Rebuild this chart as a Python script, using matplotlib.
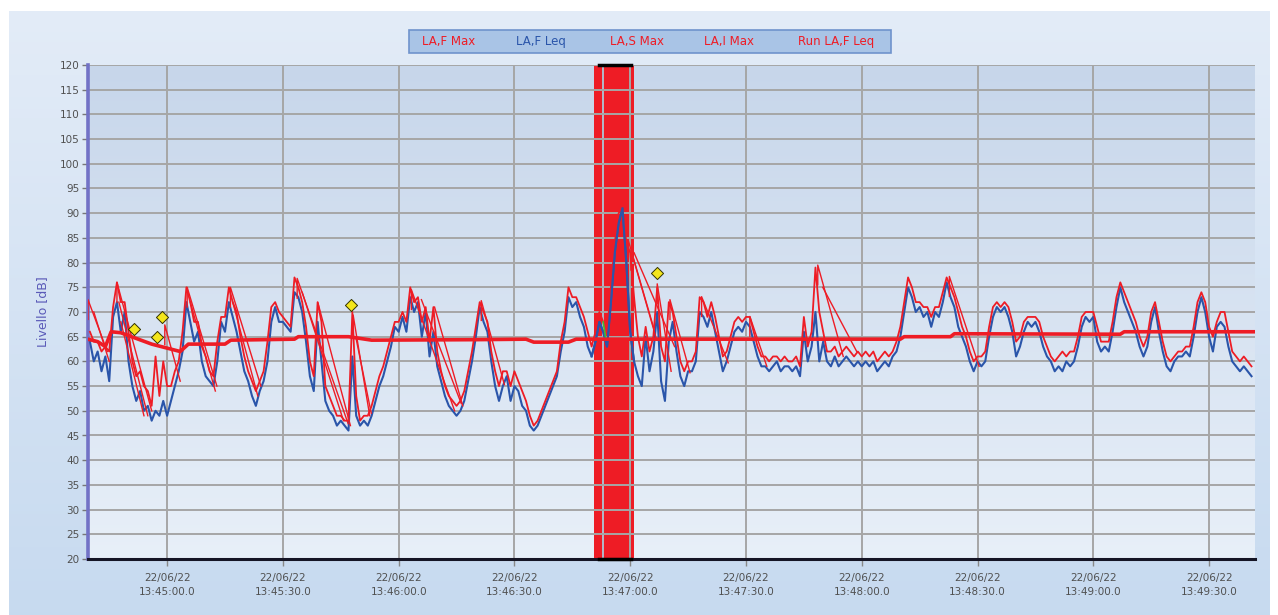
import numpy as np
import matplotlib
matplotlib.use("Agg")
import matplotlib.pyplot as plt
from matplotlib.patches import Rectangle

# ---------------- data (seconds relative to 13:45:00) ----------------
t_start = -20
leq = [64, 60, 62, 58, 61, 56, 69, 72, 66, 70, 60, 55, 52, 54, 50, 51, 48, 50, 49, 52, 49,
       52, 55, 58, 62, 72, 68, 64, 66, 60, 57, 56, 55, 60, 68, 66, 72, 69, 66, 62, 58,
       56, 53, 51, 54, 56, 60, 68, 71, 68, 68, 67, 66, 74, 73, 70, 64, 57, 54, 68, 60,
       52, 50, 49, 47, 48, 47, 46, 61, 49, 47, 48, 47, 49, 52, 55, 57, 60, 63, 67, 66,
       69, 66, 73, 70, 72, 65, 70, 61, 66, 59, 56, 53, 51, 50, 49, 50, 52, 56, 60, 65,
       71, 68, 66, 60, 55, 52, 55, 57, 52, 55, 54, 51, 50, 47, 46, 47, 49, 51, 53, 55,
       57, 62, 66, 73, 71, 72, 69, 67, 63, 61, 64, 68, 66, 63, 72, 82, 88, 91, 80, 66,
       60, 57, 55, 65, 58, 62, 70, 56, 52, 64, 68, 62, 57, 55, 58, 58, 60, 70, 69, 67,
       70, 66, 62, 58, 60, 63, 66, 67, 66, 68, 67, 64, 61, 59, 59, 58, 59, 60, 58, 59,
       59, 58, 59, 57, 66, 60, 63, 70, 60, 64, 60, 59, 61, 59, 60, 61, 60, 59, 60, 59,
       60, 59, 60, 58, 59, 60, 59, 61, 62, 65, 70, 75, 73, 70, 71, 69, 70, 67, 70, 69,
       72, 76, 73, 71, 67, 65, 63, 60, 58, 60, 59, 60, 65, 69, 71, 70, 71, 69, 66, 61,
       63, 66, 68, 67, 68, 66, 63, 61, 60, 58, 59, 58, 60, 59, 60, 63, 67, 69, 68, 69,
       64, 62, 63, 62, 66, 71, 75, 72, 70, 68, 66, 63, 61, 63, 68, 71, 66, 62, 59, 58,
       60, 61, 61, 62, 61, 65, 70, 73, 70, 65, 62, 67, 68, 67, 63, 60, 59, 58, 59, 58,
       57]
fmax = [66, 64, 64, 62, 63, 62, 71, 76, 72, 72, 66, 60, 57, 58, 55, 54, 51, 61, 53, 60, 55,
        55, 58, 60, 66, 75, 72, 68, 68, 63, 61, 58, 57, 64, 69, 69, 75, 72, 70, 65, 61,
        58, 56, 54, 56, 58, 64, 71, 72, 70, 69, 68, 67, 77, 75, 72, 67, 60, 57, 72, 68,
        55, 53, 51, 49, 49, 48, 48, 70, 53, 48, 49, 49, 51, 54, 57, 59, 62, 65, 68, 68,
        70, 68, 75, 72, 73, 68, 71, 64, 71, 62, 58, 55, 53, 52, 51, 52, 54, 58, 62, 67,
        72, 70, 68, 62, 58, 55, 58, 58, 55, 58, 56, 54, 52, 49, 47, 48, 50, 52, 54, 56,
        58, 64, 68, 75, 73, 73, 71, 69, 66, 63, 66, 70, 68, 66, 75, 84, 90, 91, 84, 82,
        73, 65, 61, 67, 62, 65, 75, 63, 60, 72, 70, 65, 60, 58, 60, 60, 62, 73, 72, 69,
        72, 69, 65, 61, 62, 65, 68, 69, 68, 69, 69, 66, 63, 61, 61, 60, 61, 61, 60, 61,
        60, 60, 61, 59, 69, 63, 66, 79, 70, 66, 62, 62, 63, 61, 62, 63, 62, 61, 62, 61,
        62, 61, 62, 60, 61, 62, 61, 62, 64, 67, 72, 77, 75, 72, 72, 71, 71, 69, 71, 71,
        74, 77, 75, 73, 70, 67, 65, 62, 60, 61, 61, 62, 67, 71, 72, 71, 72, 71, 68, 64,
        65, 68, 69, 69, 69, 68, 65, 63, 61, 60, 61, 62, 61, 62, 62, 65, 69, 70, 70, 70,
        67, 64, 64, 64, 68, 73, 76, 74, 72, 70, 68, 65, 63, 65, 70, 72, 68, 64, 61, 60,
        61, 62, 62, 63, 63, 67, 72, 74, 72, 67, 65, 68, 70, 70, 66, 62, 61, 60, 61, 60,
        59]

run_t = [-20.5, -18, -16, -14.5, -12, -4, 3.4, 5.5, 15, 16.5, 33, 34, 47, 53, 80, 93, 95,
         104, 106, 190, 191, 203, 204, 247, 248, 281.9]
run_v = [64.5, 64.0, 63.0, 66.0, 65.8, 63.5, 62.0, 63.5, 63.5, 64.3, 64.5, 65.0, 65.0, 64.3,
         64.4, 64.5, 63.9, 63.9, 64.5, 64.5, 65.0, 65.0, 65.6, 65.5, 66.0, 66.0]

# LA,S Max decay segments: (t0, v0, t1, v1)
smax_segs = [(-20.5, 72.5, -15.5, 62), (-13, 76, -4, 50), (-0.6, 67.4, 3.4, 56),
             (5.2, 75, 12.9, 55), (16.4, 75, 24.3, 55), (33.7, 76.8, 46.9, 47.4),
             (48.2, 69.4, 52.5, 49), (63.3, 74.5, 74.5, 50), (81.4, 72.3, 87.4, 55.3),
             (120.2, 82.5, 126.7, 64.8), (127, 75.7, 130.6, 58), (130.3, 72.5, 135.5, 57.7),
             (138.5, 73.1, 145.4, 59.7), (151, 69.1, 155.4, 59), (168.6, 79.5, 175.2, 61),
             (202.7, 77.2, 210.4, 59)]
# LA,I Max decay segments
imax_segs = [(-19, 70, -15, 60), (-12.5, 72, -5, 49), (-12, 68, -6, 49), (6, 72, 12.5, 54),
             (17, 72, 23.5, 53), (35, 74, 45.7, 48), (39.1, 71.8, 47.5, 47),
             (49, 64.5, 52.9, 49.5), (65.9, 72.5, 76.2, 51.5), (69.3, 71, 76.6, 51),
             (119.5, 84.5, 126, 67), (121, 82, 131.5, 63), (169.9, 75, 178.7, 62)]

marker_t = [-8.55, -2.6, -1.3, 47.7, 126.9]
marker_v = [66.6, 64.9, 69.0, 71.4, 77.9]

band_t = [110.6, 121.0]
band_line_t = 113.0
band_edge_t = [112.0, 120.3]

xtick_s = [0, 30, 60, 90, 120, 150, 180, 210, 240, 270]
xtick_labels = ["22/06/22\n13:45:00.0", "22/06/22\n13:45:30.0", "22/06/22\n13:46:00.0",
                "22/06/22\n13:46:30.0", "22/06/22\n13:47:00.0", "22/06/22\n13:47:30.0",
                "22/06/22\n13:48:00.0", "22/06/22\n13:48:30.0", "22/06/22\n13:49:00.0",
                "22/06/22\n13:49:30.0"]
legend_names = ["LA,F Max", "LA,F Leq", "LA,S Max", "LA,I Max", "Run LA,F Leq"]

RED = "#ee1c25"
BLUE = "#2a55aa"

# ---------------- figure ----------------
W, H = 1278, 615
fig = plt.figure(figsize=(W / 100, H / 100), dpi=100, facecolor="white")

# outer panel gradient
bg = fig.add_axes([9 / W, 0, 1 - 17 / W, 1 - 11 / H], zorder=-10)
bg.axis("off")
g = np.linspace(0, 1, 256).reshape(-1, 1)
c_top = np.array([0.89, 0.925, 0.97])
c_bot = np.array([0.78, 0.855, 0.94])
img = c_top + (c_bot - c_top) * g[:, :, None]
bg.imshow(img, aspect="auto", extent=[0, 1, 0, 1], origin="upper")

ax = fig.add_axes([88 / W, 1 - 559 / H, (1255 - 88) / W, (559 - 65) / H])
xmin, xmax = -20.5, 281.9
ax.set_xlim(xmin, xmax)
ax.set_ylim(20, 120)
p_top = np.array([0.78, 0.84, 0.92])
p_bot = np.array([0.91, 0.94, 0.975])
pimg = p_top + (p_bot - p_top) * g[:, :, None]
ax.imshow(pimg, aspect="auto", extent=[xmin, xmax, 20, 120], origin="upper", zorder=0)

# band
ax.axvspan(band_t[0], band_t[1], color=RED, zorder=1, lw=0)
ax.axvline(band_line_t, color="#a8d4e6", lw=1.2, zorder=1.5)

# grid
ax.set_yticks(np.arange(20, 121, 5))
ax.set_xticks(xtick_s)
ax.set_xticklabels(xtick_labels)
ax.grid(True, color="#a6a6a6", lw=1.4, zorder=2)
for gl in ax.get_xgridlines() + ax.get_ygridlines():
    gl.set_zorder(2)

# series
tt = np.arange(t_start, t_start + len(leq))
leq_a = np.array(leq, dtype=float)
fmax_a = np.array(fmax, dtype=float)
ax.plot(tt, leq_a, color=BLUE, lw=1.5, zorder=3)
ax.plot(tt, fmax_a, color=RED, lw=1.3, zorder=4)
# inside the band the red max vanishes, blue Leq stays visible
inband = (tt >= band_t[0] - 1) & (tt <= band_t[1] + 0.5)
ax.plot(tt[inband], leq_a[inband], color=BLUE, lw=1.5, zorder=4.5)
for (t0, v0, t1, v1) in smax_segs:
    ax.plot([t0, t0, t1], [v0 - 4, v0, v1], color=RED, lw=1.0, zorder=4)
for (t0, v0, t1, v1) in imax_segs:
    ax.plot([t0, t1], [v0, v1], color=RED, lw=1.0, zorder=4)
ax.plot(run_t, run_v, color=RED, lw=2.6, zorder=5)
ax.plot([113, 113.6], [68, 65], color="#44bb33", lw=1.2, zorder=5)
ax.scatter(marker_t, marker_v, marker="D", s=38, color="#f4e61c", edgecolor="#333300",
           linewidth=0.7, zorder=6)
# band top/bottom edges
ax.plot(band_edge_t, [120, 120], color="black", lw=2.5, zorder=6, clip_on=False)
ax.plot(band_edge_t, [20, 20], color="black", lw=2.5, zorder=6, clip_on=False)

# spines / ticks
for s in ["top", "right"]:
    ax.spines[s].set_visible(False)
ax.spines["left"].set_color("#7272c6")
ax.spines["left"].set_linewidth(2.6)
ax.spines["bottom"].set_color("#151525")
ax.spines["bottom"].set_linewidth(2.2)
ax.tick_params(axis="y", length=4, width=1, color="#777777", labelsize=7.5,
               labelcolor="#505050", pad=2)
ax.tick_params(axis="x", length=5, width=1, color="#888888", labelsize=7.5,
               labelcolor="#505050", pad=5)
for lab in ax.get_xticklabels():
    lab.set_linespacing(1.5)
ax.set_ylabel("Livello [dB]", color="#5a5ab8", fontsize=9, labelpad=8)

# legend box
lx0, lx1, ly0, ly1 = 409, 891, 30, 53
fig.patches.append(Rectangle((lx0 / W, 1 - ly1 / H), (lx1 - lx0) / W, (ly1 - ly0) / H,
                             transform=fig.transFigure, facecolor="#a9c4e6",
                             edgecolor="#6f93cc", lw=1.2, zorder=5))
leg_x = [449, 541, 637, 729, 836]
leg_c = [RED, BLUE, RED, RED, RED]
for name, x, c in zip(legend_names, leg_x, leg_c):
    fig.text(x / W, 1 - 41.5 / H, name, color=c, fontsize=8.5, ha="center", va="center",
             zorder=6)

fig.savefig("out.png", dpi=100)
